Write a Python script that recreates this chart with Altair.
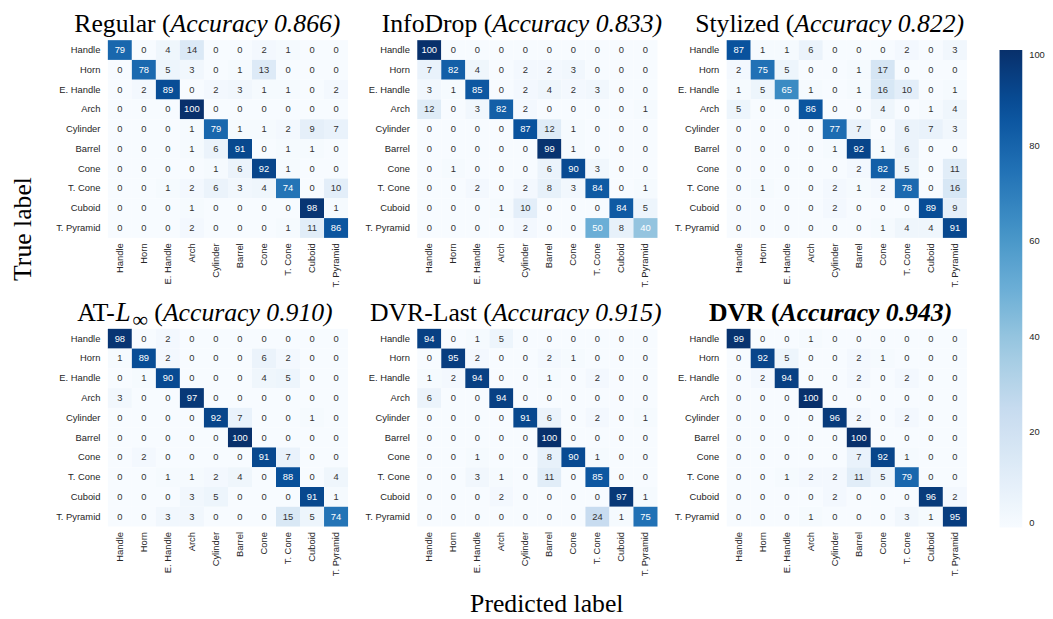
import altair as alt
import pandas as pd

CLASSES = ["Handle", "Horn", "E. Handle", "Arch", "Cylinder", "Barrel",
           "Cone", "T. Cone", "Cuboid", "T. Pyramid"]

NAMES = ["Regular", "InfoDrop", "Stylized", "AT-", "DVR-Last", "DVR"]
ACCURACY = ["0.866", "0.833", "0.822", "0.910", "0.915", "0.943"]

REGULAR = [
    [79, 0, 4, 14, 0, 0, 2, 1, 0, 0],
    [0, 78, 5, 3, 0, 1, 13, 0, 0, 0],
    [0, 2, 89, 0, 2, 3, 1, 1, 0, 2],
    [0, 0, 0, 100, 0, 0, 0, 0, 0, 0],
    [0, 0, 0, 1, 79, 1, 1, 2, 9, 7],
    [0, 0, 0, 1, 6, 91, 0, 1, 1, 0],
    [0, 0, 0, 0, 1, 6, 92, 1, 0, 0],
    [0, 0, 1, 2, 6, 3, 4, 74, 0, 10],
    [0, 0, 0, 1, 0, 0, 0, 0, 98, 1],
    [0, 0, 0, 2, 0, 0, 0, 1, 11, 86],
]
INFODROP = [
    [100, 0, 0, 0, 0, 0, 0, 0, 0, 0],
    [7, 82, 4, 0, 2, 2, 3, 0, 0, 0],
    [3, 1, 85, 0, 2, 4, 2, 3, 0, 0],
    [12, 0, 3, 82, 2, 0, 0, 0, 0, 1],
    [0, 0, 0, 0, 87, 12, 1, 0, 0, 0],
    [0, 0, 0, 0, 0, 99, 1, 0, 0, 0],
    [0, 1, 0, 0, 0, 6, 90, 3, 0, 0],
    [0, 0, 2, 0, 2, 8, 3, 84, 0, 1],
    [0, 0, 0, 1, 10, 0, 0, 0, 84, 5],
    [0, 0, 0, 0, 2, 0, 0, 50, 8, 40],
]
STYLIZED = [
    [87, 1, 1, 6, 0, 0, 0, 2, 0, 3],
    [2, 75, 5, 0, 0, 1, 17, 0, 0, 0],
    [1, 5, 65, 1, 0, 1, 16, 10, 0, 1],
    [5, 0, 0, 86, 0, 0, 4, 0, 1, 4],
    [0, 0, 0, 0, 77, 7, 0, 6, 7, 3],
    [0, 0, 0, 0, 1, 92, 1, 6, 0, 0],
    [0, 0, 0, 0, 0, 2, 82, 5, 0, 11],
    [0, 1, 0, 0, 2, 1, 2, 78, 0, 16],
    [0, 0, 0, 0, 2, 0, 0, 0, 89, 9],
    [0, 0, 0, 0, 0, 0, 1, 4, 4, 91],
]
AT_LINF = [
    [98, 0, 2, 0, 0, 0, 0, 0, 0, 0],
    [1, 89, 2, 0, 0, 0, 6, 2, 0, 0],
    [0, 1, 90, 0, 0, 0, 4, 5, 0, 0],
    [3, 0, 0, 97, 0, 0, 0, 0, 0, 0],
    [0, 0, 0, 0, 92, 7, 0, 0, 1, 0],
    [0, 0, 0, 0, 0, 100, 0, 0, 0, 0],
    [0, 2, 0, 0, 0, 0, 91, 7, 0, 0],
    [0, 0, 1, 1, 2, 4, 0, 88, 0, 4],
    [0, 0, 0, 3, 5, 0, 0, 0, 91, 1],
    [0, 0, 3, 3, 0, 0, 0, 15, 5, 74],
]
DVR_LAST = [
    [94, 0, 1, 5, 0, 0, 0, 0, 0, 0],
    [0, 95, 2, 0, 0, 2, 1, 0, 0, 0],
    [1, 2, 94, 0, 0, 1, 0, 2, 0, 0],
    [6, 0, 0, 94, 0, 0, 0, 0, 0, 0],
    [0, 0, 0, 0, 91, 6, 0, 2, 0, 1],
    [0, 0, 0, 0, 0, 100, 0, 0, 0, 0],
    [0, 0, 1, 0, 0, 8, 90, 1, 0, 0],
    [0, 0, 3, 1, 0, 11, 0, 85, 0, 0],
    [0, 0, 0, 2, 0, 0, 0, 0, 97, 1],
    [0, 0, 0, 0, 0, 0, 0, 24, 1, 75],
]
DVR = [
    [99, 0, 0, 1, 0, 0, 0, 0, 0, 0],
    [0, 92, 5, 0, 0, 2, 1, 0, 0, 0],
    [0, 2, 94, 0, 0, 2, 0, 2, 0, 0],
    [0, 0, 0, 100, 0, 0, 0, 0, 0, 0],
    [0, 0, 0, 0, 96, 2, 0, 2, 0, 0],
    [0, 0, 0, 0, 0, 100, 0, 0, 0, 0],
    [0, 0, 0, 0, 0, 7, 92, 1, 0, 0],
    [0, 0, 1, 2, 2, 11, 5, 79, 0, 0],
    [0, 0, 0, 0, 2, 0, 0, 0, 96, 2],
    [0, 0, 0, 1, 0, 0, 0, 3, 1, 95],
]
MATRICES = [REGULAR, INFODROP, STYLIZED, AT_LINF, DVR_LAST, DVR]
COLORBAR_TICKS = [0, 20, 40, 60, 80, 100]
# matplotlib "Blues" colour stops
BLUES = ["#f7fbff", "#deebf7", "#c6dbef", "#9ecae1", "#6baed6",
         "#4292c6", "#2171b5", "#08519c", "#08306b"]
BLUES_DOMAIN = [0, 12.5, 25, 37.5, 50, 62.5, 75, 87.5, 100]

SERIF = "Liberation Serif"
SANS = "Liberation Sans"
W, H = 243, 200
TITLE_Y = -8
SPLIT_X = [63.5, 75.9, 68.4, None, 75.5, 53.5]


def piece(text, x, y=TITLE_Y, align="left", style="normal", weight="normal",
          size=26, dy=0, baseline="alphabetic", angle=0):
    return alt.Chart(alt.InlineData(values=[{"t": text}])).mark_text(
        align=align, baseline=baseline, font=SERIF, fontSize=size,
        fontStyle=style, fontWeight=weight, color="black", dy=dy, angle=angle
    ).encode(x=alt.value(x), y=alt.value(y), text="t:N")


def title_parts(i):
    acc = "Accuracy " + ACCURACY[i] + ")"
    if i == 3:
        return [
            piece(NAMES[i], 7, align="right"),
            piece("L", 8, style="italic", size=27),
            piece("\u221e", 25, size=22, dy=6),
            piece("(", 47),
            piece(acc, 55.7, style="italic"),
        ]
    weight = "bold" if i == 5 else "normal"
    sx = SPLIT_X[i]
    parts = [
        piece(NAMES[i] + " (", sx, align="right", weight=weight),
        piece(acc, sx, align="left", style="italic", weight=weight),
    ]
    if i == 0:
        # shared y-axis title
        parts.append(piece("True label", -86, y=191, align="center",
                           baseline="middle", angle=270))
    if i == 4:
        # shared x-axis title, centred under the grid
        parts.append(piece("Predicted label", 131, y=H + 86, align="center"))
    return parts


def long_form(m):
    rows = []
    for ti, t in enumerate(CLASSES):
        for pi, p in enumerate(CLASSES):
            rows.append({"true": t, "pred": p, "v": m[ti][pi]})
    return pd.DataFrame(rows)


XAXIS = alt.Axis(title=None, ticks=False, domain=False, labelAngle=270,
                 labelFont=SANS, labelFontSize=9.5, labelColor="#262626",
                 labelPadding=5)
YAXIS = alt.Axis(title=None, ticks=False, domain=False,
                 labelFont=SANS, labelFontSize=9.5, labelColor="#262626",
                 labelPadding=8)
LEGEND = alt.Legend(title=None, orient="none", legendX=902, legendY=10,
                    direction="vertical", gradientLength=483,
                    gradientThickness=23, gradientStrokeWidth=0,
                    values=COLORBAR_TICKS, labelFont=SANS, labelFontSize=9.5,
                    labelColor="#262626", labelOffset=7)


def panel(i):
    df = long_form(MATRICES[i])
    base = alt.Chart(df).encode(
        x=alt.X("pred:N", sort=CLASSES, axis=XAXIS,
                scale=alt.Scale(paddingInner=0, paddingOuter=0)),
        y=alt.Y("true:N", sort=CLASSES, axis=YAXIS,
                scale=alt.Scale(paddingInner=0, paddingOuter=0)),
    )
    rect = base.mark_rect().encode(
        color=alt.Color("v:Q",
                        scale=alt.Scale(domain=BLUES_DOMAIN, range=BLUES,
                                        interpolate="rgb"),
                        legend=LEGEND)
    )
    txt = base.mark_text(font=SANS, fontSize=9.5).encode(
        text="v:Q",
        color=alt.condition("datum.v >= 38", alt.value("white"), alt.value("#333333")),
    )
    return alt.layer(rect, txt, *title_parts(i)).properties(width=W, height=H)


chart = alt.concat(
    *[panel(i) for i in range(6)], columns=3,
    spacing={"row": 92, "column": 70}, bounds="flush",
).properties(
    padding={"left": 2, "top": 0, "right": 0, "bottom": 0}
).resolve_scale(color="shared").configure_view(stroke=None)

chart.save("out.html", embed_options={"renderer": "svg", "actions": False})
